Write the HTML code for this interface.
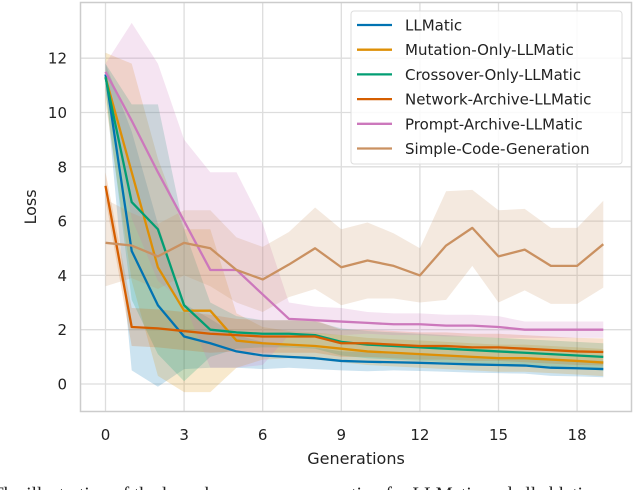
<!DOCTYPE html>
<html><head><meta charset="utf-8"><style>
body{margin:0;background:#fff;}
svg{display:block;font-family:"DejaVu Sans","Liberation Sans",sans-serif;}
</style></head><body>
<svg id="chart" width="640" height="490" viewBox="0 0 640 490" xmlns="http://www.w3.org/2000/svg">
<g id="grid"></g><g id="bands"></g><g id="lines"></g>
<rect x="80.5" y="2.5" width="551" height="409" fill="none" stroke="#cccccc" stroke-width="1.5"/>
<g id="ticks"></g>
<text x="356" y="464" font-size="16" text-anchor="middle" fill="#222">Generations</text>
<text x="36" y="207" font-size="16" text-anchor="middle" fill="#222" transform="rotate(-90 36 207)">Loss</text>
<g id="legend"></g>
<text x="-8" y="500" font-size="19" font-family="Liberation Serif,serif" fill="#222">The illustration of the loss changes over generation for LLMatic and all ablations</text>
</svg>
<script>
const gens=[0,1,2,3,4,5,6,7,8,9,10,11,12,13,14,15,16,17,18,19];
const names=["LLMatic","Mutation-Only-LLMatic","Crossover-Only-LLMatic","Network-Archive-LLMatic","Prompt-Archive-LLMatic","Simple-Code-Generation"];
const colors=["#0173b2","#de8f05","#029e73","#d55e00","#cc78bc","#ca9161"];
const llmatic=[11.4,4.9,2.9,1.75,1.5,1.2,1.05,1.0,0.95,0.85,0.82,0.8,0.78,0.75,0.72,0.7,0.68,0.6,0.58,0.55];
const mutation=[11.3,7.8,4.3,2.7,2.7,1.6,1.5,1.45,1.4,1.3,1.2,1.15,1.1,1.05,1.0,0.95,0.95,0.9,0.85,0.79];
const crossover=[11.3,6.7,5.7,2.9,2.0,1.9,1.85,1.85,1.8,1.55,1.45,1.4,1.35,1.3,1.25,1.2,1.15,1.1,1.05,1.0];
const network=[7.3,2.1,2.05,1.95,1.85,1.8,1.75,1.75,1.75,1.5,1.5,1.45,1.4,1.4,1.35,1.35,1.3,1.25,1.2,1.18];
const prompt=[11.5,9.7,7.8,6.0,4.2,4.2,3.3,2.4,2.35,2.3,2.25,2.2,2.2,2.15,2.15,2.1,2.0,2.0,2.0,2.0];
const simple=[5.2,5.1,4.7,5.2,5.0,4.2,3.85,4.4,5.0,4.3,4.55,4.35,4.0,5.1,5.75,4.7,4.95,4.35,4.35,5.15];
const llmaticSd=[0.4,4.4,3.0,1.2,0.9,0.6,0.5,0.4,0.4,0.35,0.35,0.3,0.3,0.3,0.3,0.3,0.3,0.3,0.3,0.3];
const mutationSd=[0.9,4.0,4.0,3.0,3.0,1.0,0.6,0.5,0.5,0.5,0.5,0.5,0.5,0.5,0.5,0.5,0.5,0.5,0.5,0.5];
const crossoverSd=[0.5,3.6,4.6,2.8,1.0,0.6,0.5,0.5,0.5,0.5,0.5,0.5,0.5,0.5,0.5,0.5,0.5,0.5,0.5,0.5];
const networkSd=[0.5,0.7,0.7,0.7,0.7,0.6,0.6,0.6,0.6,0.5,0.5,0.5,0.5,0.5,0.5,0.5,0.5,0.5,0.5,0.5];
const promptSd=[0.3,3.6,4.0,3.0,3.6,3.6,2.6,0.6,0.5,0.5,0.4,0.4,0.4,0.4,0.4,0.4,0.3,0.3,0.3,0.3];
const simpleSd=[1.6,1.2,1.2,1.2,1.4,1.2,1.2,1.2,1.5,1.4,1.4,1.2,1.0,2.0,1.4,1.7,1.5,1.4,1.4,1.6];
const xTicks=[0,3,6,9,12,15,18];
const yTicks=[0,2,4,6,8,10,12];
const series=[llmatic,mutation,crossover,network,prompt,simple];
const sds=[llmaticSd,mutationSd,crossoverSd,networkSd,promptSd,simpleSd];
const NS="http://www.w3.org/2000/svg";
const X=v=>105.5+v*26.2, Y=v=>384-v*27.15;
function mk(t,a,p){const e=document.createElementNS(NS,t);for(const k in a)e.setAttribute(k,a[k]);p.appendChild(e);return e;}
const grid=document.getElementById('grid'),ticks=document.getElementById('ticks');
xTicks.forEach(t=>{
 const l=mk('line',{x1:X(t),x2:X(t),y1:2,y2:411,stroke:'#dddddd','stroke-width':1.3},grid);
 
 
 const s=mk('text',{x:X(t),y:440,'font-size':15,'text-anchor':'middle',fill:'#222'},ticks);s.textContent=t;
 
 
});
yTicks.forEach(t=>{
 const l=mk('line',{x1:80,x2:631,y1:Y(t),y2:Y(t),stroke:'#dddddd','stroke-width':1.3},grid);
 
 
 const s=mk('text',{x:67,y:Y(t)+5.5,'font-size':15,'text-anchor':'end',fill:'#222'},ticks);s.textContent=t;
 
 
});
const bands=document.getElementById('bands'),lines=document.getElementById('lines');
series.forEach((d,i)=>{
 const up=gens.map((g,j)=>X(g)+','+Y(d[j]+sds[i][j]));
 const lo=gens.map((g,j)=>X(g)+','+Y(d[j]-sds[i][j])).reverse();
 const b=mk('polygon',{points:up.concat(lo).join(' '),fill:colors[i],'fill-opacity':0.2,stroke:'none'},bands);
 
 
 const p=mk('polyline',{points:gens.map((g,j)=>X(g)+','+Y(d[j])).join(' '),fill:'none',stroke:colors[i],'stroke-width':2.3,'stroke-linejoin':'round'},lines);
 
 
});
const lg=document.getElementById('legend');
const box=mk('rect',{x:351,y:11,width:271,height:153,rx:3,fill:'#fff','fill-opacity':0.85,stroke:'#dddddd'},lg);


names.forEach((n,i)=>{
 const y=25+i*24.7;
 const l=mk('line',{x1:357,x2:392,y1:y,y2:y,stroke:colors[i],'stroke-width':2.3},lg);
 
 
 const t=mk('text',{x:405,y:y+5.5,'font-size':15,fill:'#222'},lg);t.textContent=n;
 
 
});
</script>
</body></html>
